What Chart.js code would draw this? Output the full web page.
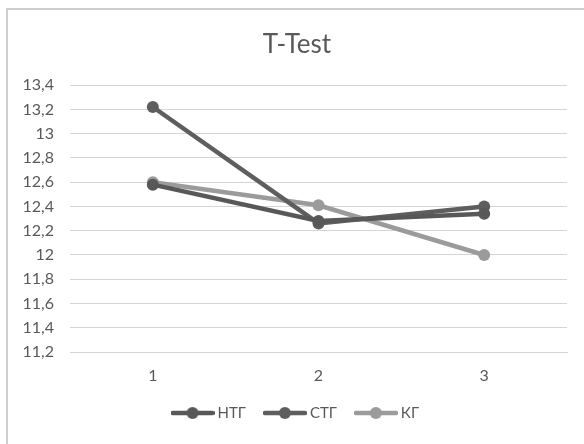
<!DOCTYPE html>
<html>
<head>
<meta charset="utf-8">
<script src="https://cdn.jsdelivr.net/npm/chart.js@4/dist/chart.umd.min.js"></script>
<style>
  html, body { margin: 0; padding: 0; background: #fff; overflow: hidden; }
  #wrap { position: relative; width: 584px; height: 444px; }
  #frame { position: absolute; left: 6px; top: 8px; width: 620px; height: 500px;
           border: 2px solid #cfcfcf; box-sizing: border-box; pointer-events: none; }
  canvas { position: absolute; left: 0; top: 0; }
</style>
</head>
<body>
<div id="wrap">
  <canvas id="chart" width="584" height="444"></canvas>
  <div id="frame"></div>
</div>
<script>
const labels = ['1', '2', '3'];
const ntg = [12.58, 12.28, 12.34];
const stg = [13.22, 12.26, 12.40];
const kg = [12.60, 12.41, 12.00];
const seriesNames = ['НТГ', 'СТГ', 'КГ'];
const seriesColors = ['#585858', '#5e5e5e', '#9b9b9b'];

const FONT = 'Lato, "Noto Sans", sans-serif';
const TEXT = '#595959';

// little "line with a dot" swatch for the legend
const makeSwatch = (color) => {
  const c = document.createElement('canvas');
  c.width = 44;
  c.height = 14;
  const g = c.getContext('2d');
  g.strokeStyle = color;
  g.lineWidth = 4.5;
  g.lineCap = 'round';
  g.beginPath();
  g.moveTo(2, 7);
  g.lineTo(42, 7);
  g.stroke();
  g.fillStyle = color;
  g.beginPath();
  g.arc(22, 7, 6, 0, Math.PI * 2);
  g.fill();
  return c;
};

const swatches = seriesColors.map(makeSwatch);

const makeSet = (label, data, color) => ({
  label: label,
  data: data,
  borderColor: color,
  backgroundColor: color,
  borderWidth: 4.5,
  pointRadius: 6,
  pointHoverRadius: 6,
  pointBackgroundColor: color,
  pointBorderWidth: 0,
  tension: 0,
});

const ctx = document.getElementById('chart').getContext('2d');
new Chart(ctx, {
  type: 'line',
  data: {
    labels: labels,
    datasets: [
      makeSet(seriesNames[0], ntg, seriesColors[0]),
      makeSet(seriesNames[1], stg, seriesColors[1]),
      makeSet(seriesNames[2], kg, seriesColors[2]),
    ],
  },
  options: {
    responsive: false,
    animation: false,
    layout: { padding: { left: 10, right: 0, top: 0, bottom: 13.5 } },
    plugins: {
      tooltip: { enabled: false },
      title: {
        display: true,
        text: 'T-Test',
        color: TEXT,
        font: { family: FONT, size: 26, weight: 'normal', lineHeight: 1.2 },
        padding: { top: 29, bottom: 25 },
      },
      legend: {
        position: 'bottom',
        labels: {
          color: TEXT,
          font: { family: FONT, size: 15 },
          usePointStyle: true,
          pointStyleWidth: 35,
          boxHeight: 15,
          padding: 21.5,
          generateLabels: (chart) => {
            const items = Chart.defaults.plugins.legend.labels.generateLabels(chart);
            items.forEach((it) => { it.pointStyle = swatches[it.datasetIndex]; });
            return items;
          },
        },
      },
    },
    scales: {
      x: {
        offset: true,
        grid: { display: false, drawTicks: false },
        border: { display: true, color: '#d4d4d4', width: 1 },
        ticks: { color: TEXT, font: { family: FONT, size: 16, lineHeight: 1 }, padding: 16 },
        afterFit: (scale) => { scale.height = 32; },
      },
      y: {
        min: 11.2,
        max: 13.4,
        grid: { color: '#d4d4d4', lineWidth: 1, drawTicks: false },
        border: { display: false },
        ticks: {
          stepSize: 0.2,
          color: TEXT,
          font: { family: FONT, size: 16 },
          padding: 16,
          callback: (v) => String(Math.round(v * 10) / 10).replace('.', ','),
        },
        afterFit: (scale) => { scale.width = 60; },
      },
      // empty strip on the right so the plot ends short of the edge
      pad: {
        type: 'linear',
        position: 'right',
        display: true,
        grid: { display: false, drawTicks: false },
        border: { display: false },
        ticks: { display: false },
        afterFit: (scale) => { scale.width = 17; },
      },
    },
  },
});
</script>
</body>
</html>
